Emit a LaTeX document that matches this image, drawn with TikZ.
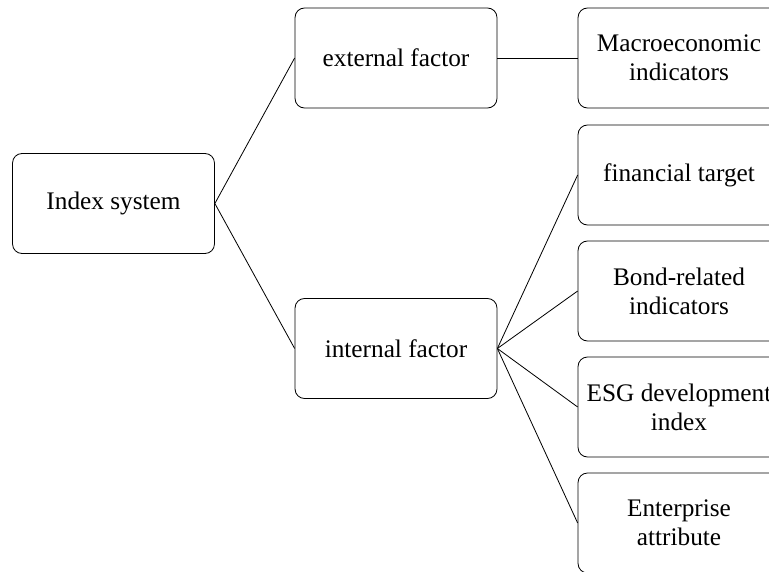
\documentclass[tikz,border=0pt]{standalone}
\usepackage{fontspec}
\setmainfont{Liberation Serif}
\begin{document}
\begin{tikzpicture}[x=0.026cm, y=-0.026cm, line width=0.6pt]

\tikzset{box/.style={draw, rounded corners=7pt,
    minimum width=5.25cm, minimum height=2.6cm, align=center,
    font=\fontsize{18.7}{21.4}\selectfont}}
\def\colA{113.5}
\def\colB{396}
\def\colC{679}

\clip (0,0) rectangle (769,571);

\node[box] (index) at (\colA,203.5) {Index system};

\node[box] (external) at (\colB,58) {external factor};
\node[box] (internal) at (\colB,348.5) {internal factor};

\node[box] (macro) at (\colC,58) {Macroeconomic\\indicators};
\node[box] (finance) at (\colC,175) {financial target};
\node[box] (bond) at (\colC,291) {Bond-related\\indicators};
\node[box] (esg) at (\colC,407) {ESG development\\index};
\node[box] (attr) at (\colC,523) {Enterprise\\attribute};

\draw (index.east) -- (external.west);
\draw (index.east) -- (internal.west);

\draw (external.east) -- (macro.west);

\draw (internal.east) -- (finance.west);
\draw (internal.east) -- (bond.west);
\draw (internal.east) -- (esg.west);
\draw (internal.east) -- (attr.west);

\end{tikzpicture}
\end{document}
